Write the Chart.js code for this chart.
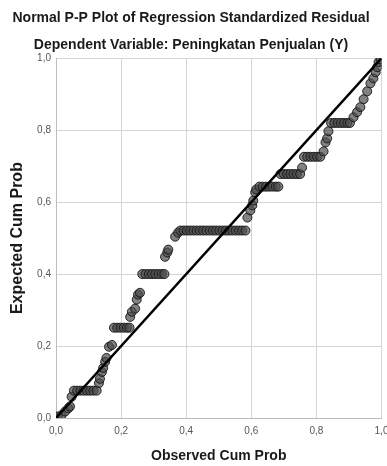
<!DOCTYPE html>
<html>
<head>
<meta charset="utf-8">
<script src="https://cdn.jsdelivr.net/npm/chart.js@4"></script>
<style>
  body { margin: 0; background: #fff; }
  canvas { display: block; }
</style>
</head>
<body>
<canvas id="pp" width="387" height="466"></canvas>
<script>
  const titleText = 'Normal P-P Plot of Regression Standardized Residual';
  const subtitleText = 'Dependent Variable: Peningkatan Penjualan (Y)';
  const xTitle = 'Observed Cum Prob';
  const yTitle = 'Expected Cum Prob';
  const tickLabels = ['0,0', '0,2', '0,4', '0,6', '0,8', '1,0'];

  const observed = [
    0.005, 0.017, 0.028, 0.038, 0.043, 0.048,
    0.055, 0.065, 0.075, 0.085, 0.095, 0.105, 0.115, 0.125,
    0.132, 0.135, 0.141, 0.145, 0.151, 0.155, 0.163, 0.172,
    0.178, 0.188, 0.198, 0.208, 0.218, 0.226,
    0.228, 0.233, 0.243, 0.248, 0.252, 0.258,
    0.265, 0.275, 0.285, 0.295, 0.305, 0.315, 0.325, 0.333,
    0.335, 0.342, 0.345, 0.366, 0.375,
    0.382, 0.392, 0.402, 0.412, 0.422, 0.432, 0.442, 0.452, 0.462, 0.472, 0.482,
    0.492, 0.502, 0.512, 0.522, 0.532, 0.542, 0.552, 0.562, 0.572, 0.582,
    0.588, 0.597, 0.603, 0.606, 0.612, 0.615,
    0.625, 0.635, 0.645, 0.655, 0.665, 0.675, 0.683,
    0.690, 0.700, 0.710, 0.720, 0.730, 0.740, 0.750,
    0.756,
    0.762, 0.772, 0.782, 0.792, 0.802, 0.812,
    0.822, 0.828, 0.833, 0.837,
    0.845, 0.855, 0.865, 0.875, 0.885, 0.895, 0.903,
    0.914, 0.925, 0.935, 0.945, 0.956, 0.966, 0.975, 0.982, 0.987, 0.991, 0.997
  ];

  const expected = [
    0.004, 0.008, 0.018, 0.027, 0.032, 0.059,
    0.076, 0.076, 0.076, 0.076, 0.076, 0.076, 0.076, 0.076,
    0.097, 0.109, 0.128, 0.139, 0.156, 0.167, 0.198, 0.203,
    0.251, 0.251, 0.251, 0.251, 0.251, 0.251,
    0.281, 0.295, 0.304, 0.329, 0.343, 0.348,
    0.400, 0.400, 0.400, 0.400, 0.400, 0.400, 0.400, 0.400,
    0.448, 0.460, 0.468, 0.504, 0.515,
    0.521, 0.521, 0.521, 0.521, 0.521, 0.521, 0.521, 0.521, 0.521, 0.521, 0.521,
    0.521, 0.521, 0.521, 0.521, 0.521, 0.521, 0.521, 0.521, 0.521, 0.521,
    0.557, 0.577, 0.591, 0.604, 0.627, 0.635,
    0.643, 0.643, 0.643, 0.643, 0.643, 0.643, 0.643,
    0.678, 0.678, 0.678, 0.678, 0.678, 0.678, 0.678,
    0.696,
    0.726, 0.726, 0.726, 0.726, 0.726, 0.726,
    0.741, 0.766, 0.777, 0.797,
    0.820, 0.820, 0.820, 0.820, 0.820, 0.820, 0.820,
    0.836, 0.850, 0.864, 0.886, 0.908, 0.930, 0.944, 0.961, 0.975, 0.989, 0.997
  ];

  const refLine = [0, 1];

  const font = 'Liberation Sans, Arial, sans-serif';

  const points = observed.map((x, i) => ({ x: x, y: expected[i] }));
  const diag = refLine.map(v => ({ x: v, y: v }));

  const tickFmt = (v) => {
    const i = Math.round(v * 5);
    return tickLabels[i] !== undefined ? tickLabels[i] : '';
  };

  const config = {
    type: 'scatter',
    data: {
      datasets: [{
        label: 'Residual',
        data: points,
        backgroundColor: 'rgba(75,75,75,0.7)',
        borderColor: 'rgba(20,20,20,0.9)',
        borderWidth: 1,
        pointRadius: 4.5,
        order: 1
      },
      {
        label: 'Diagonal',
        type: 'line',
        data: diag,
        borderColor: '#000',
        borderWidth: 2.5,
        pointRadius: 0,
        fill: false,
        order: 0
      }]
    },
    options: {
      responsive: false,
      animation: false,
      layout: { padding: { left: 0, right: 5, top: 0, bottom: 0 } },
      plugins: {
        legend: { display: false },
        tooltip: { enabled: false },
        title: {
          display: true,
          text: titleText,
          color: '#1a1a1a',
          font: { family: font, size: 14, weight: 'bold' },
          padding: { top: 10, bottom: 10 }
        },
        subtitle: {
          display: true,
          text: subtitleText,
          color: '#1a1a1a',
          font: { family: font, size: 14, weight: 'bold' },
          padding: { top: 0, bottom: 4.6 }
        }
      },
      scales: {
        x: {
          type: 'linear',
          min: 0, max: 1,
          afterFit: (s) => { s.height = 48; s.paddingRight = 0; s.paddingLeft = 0; },
          grid: { color: '#d6d6d6', drawTicks: false },
          border: { color: '#bdbdbd' },
          ticks: {
            stepSize: 0.2,
            padding: 7,
            color: '#555',
            font: { family: font, size: 10 },
            callback: tickFmt
          },
          title: {
            display: true,
            text: xTitle,
            color: '#1a1a1a',
            font: { family: font, size: 14, weight: 'bold' },
            padding: { top: 0, bottom: 1 }
          }
        },
        y: {
          type: 'linear',
          min: 0, max: 1,
          afterFit: (s) => { s.width = 56; },
          grid: { color: '#d6d6d6', drawTicks: false },
          border: { color: '#bdbdbd' },
          ticks: {
            stepSize: 0.2,
            padding: 5,
            color: '#555',
            font: { family: font, size: 10 },
            callback: tickFmt
          },
          title: {
            display: true,
            text: yTitle,
            color: '#1a1a1a',
            font: { family: font, size: 16, weight: 'bold' },
            padding: { top: 8, bottom: 0 }
          }
        }
      }
    }
  };

  const ppChart = new Chart(document.getElementById('pp'), config);
</script>
</body>
</html>
